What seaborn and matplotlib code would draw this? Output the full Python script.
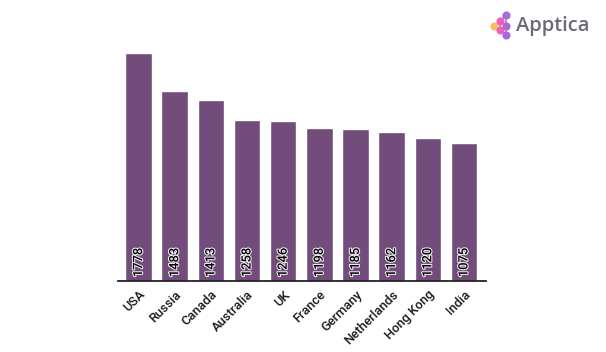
import matplotlib
matplotlib.use('Agg')
import matplotlib.pyplot as plt
import matplotlib.patheffects as pe
import pandas as pd
import seaborn as sns

W, H = 606, 352

# Valores
paises = ['USA', 'Russia', 'Canada', 'Australia', 'UK', 'France', 'Germany',
          'Netherlands', 'Hong Kong', 'India']
valores = [1778, 1483, 1413, 1258, 1246, 1198, 1185, 1162, 1120, 1075]

dados = pd.DataFrame({'pais': paises, 'valor': valores})

sns.set_style('white')
plt.rcParams['font.family'] = ['Roboto', 'DejaVu Sans']

fig = plt.figure(figsize=(W / 100, H / 100), dpi=100, facecolor='white')
ax = fig.add_axes([118 / W, 1 - 281 / H, 368 / W, 241 / H])

sns.barplot(data=dados, x='pais', y='valor', color='#724d7c', saturation=1,
            width=0.735, ax=ax)

ax.set_xlim(-0.57, 9.61)
ax.set_ylim(0, 1882)
ax.set_xlabel('')
ax.set_ylabel('')
ax.set_yticks([])
sns.despine(ax=ax, left=True)
ax.spines['bottom'].set_color('#222222')
ax.spines['bottom'].set_linewidth(1.3)

ax.tick_params(axis='x', length=0, pad=5)
plt.setp(ax.get_xticklabels(), rotation=45, ha='right', rotation_mode='anchor',
         fontsize=9.3, fontweight='medium', color='#1a1a1a')

# Rotulos dos valores dentro das barras
for i, v in enumerate(valores):
    ax.text(i, 30, str(v), rotation=90, ha='center', va='bottom', fontsize=9.3,
            fontweight='medium', color='black',
            path_effects=[pe.withStroke(linewidth=1.5, foreground='#f4eef6')])

# Logo
logo = fig.add_axes([0, 0, 1, 1], facecolor='none')
logo.set_xlim(0, W)
logo.set_ylim(H, 0)
logo.axis('off')
logo.plot([500, 506, 500, 506, 500, 506, 506], [21, 15, 21, 26, 30, 35, 15],
          color='#c98ad8', lw=1.4, zorder=1)
logo.plot([500, 500], [21, 30], color='#e58ccf', lw=1.4, zorder=1)
logo.scatter([494], [26], s=34, color='#f7bd68', linewidths=0, zorder=2)
logo.scatter([500, 500], [21, 30], s=34, color='#ec62b8', linewidths=0, zorder=2)
logo.scatter([506, 506, 506], [15, 26, 35], s=34, color='#a66bd6', linewidths=0, zorder=2)
logo.text(516, 26, 'Apptica', fontsize=14.5, fontweight='semibold', color='#6b6a78',
          ha='left', va='center', family=['Open Sans', 'DejaVu Sans'])

fig.savefig('out.png', dpi=100)
